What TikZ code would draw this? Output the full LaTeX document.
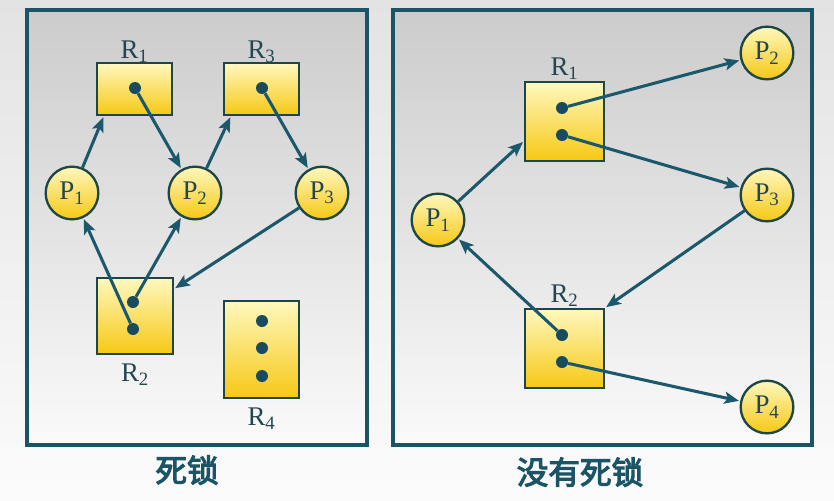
\documentclass[tikz,border=0pt]{standalone}
\usepackage{fontspec}
\setmainfont{Liberation Serif}
\newfontfamily\cjk{Noto Sans CJK SC}[FakeBold=3.5]
\usepackage{tikz}
\usetikzlibrary{positioning, arrows.meta, calc}

\definecolor{framec}{RGB}{27,84,100}
\definecolor{edgec}{RGB}{28,88,108}
\definecolor{nodeline}{RGB}{30,70,70}
\definecolor{dotc}{RGB}{25,75,95}
\definecolor{labc}{RGB}{35,70,80}
\definecolor{yeltop}{RGB}{255,248,190}
\definecolor{yelbot}{RGB}{246,200,20}

\begin{document}
\begin{tikzpicture}[
    x=0.03cm, y=-0.03cm,
    panel/.style={rectangle, draw=framec, line width=3pt,
                  top color=gray!40, bottom color=gray!4, inner sep=0pt},
    res/.style={rectangle, draw=nodeline, line width=2pt,
                top color=yeltop, bottom color=yelbot, inner sep=0pt},
    proc/.style={circle, draw=nodeline, line width=2pt,
                 top color=yeltop, bottom color=yelbot, inner sep=0pt,
                 minimum size=1.58cm, text=labc,
                 font=\fontsize{23}{26}\selectfont},
    unit/.style={circle, fill=dotc, inner sep=0pt, minimum size=0.36cm},
    lbl/.style={text=labc, inner sep=1pt, font=\fontsize{23}{26}\selectfont},
    arr/.style={-{Stealth[length=4.4mm, width=3.6mm, inset=1mm]},
                line width=2.6pt, draw=edgec, shorten >=1pt},
    caption/.style={text=framec, font=\cjk\fontsize{27}{30}\selectfont},
]

% canvas and background
\useasboundingbox (0,0) rectangle (834,500);
\shade[top color=gray!22, bottom color=gray!3] (0,0) rectangle (834,500);

% Panels
\node[panel, minimum width=10.2cm, minimum height=13.05cm] (leftpanel) at (197,227.5) {};
\node[panel, minimum width=12.57cm, minimum height=13.05cm] (rightpanel) at (602.5,227.5) {};

% ---- Left panel: deadlock ----
\node[res, minimum width=2.25cm, minimum height=1.56cm] (r1) at (134.5,89) {};
\node[res, minimum width=2.25cm, minimum height=1.56cm] (r3) at (261.5,89) {};
\node[res, minimum width=2.28cm, minimum height=2.28cm] (r2) at (135,316) {};
\node[res, minimum width=2.25cm, minimum height=2.91cm] (r4) at (261.5,349.5) {};

\node[lbl, above=-2pt of r1] (r1lbl) {R\textsubscript{1}};
\node[lbl, above=-2pt of r3] (r3lbl) {R\textsubscript{3}};
\node[lbl, below=6pt of r2] (r2lbl) {R\textsubscript{2}};
\node[lbl, below=6pt of r4] (r4lbl) {R\textsubscript{4}};

\node[unit] (r1u) at (135,88) {};
\node[unit] (r3u) at (262,88) {};
\node[unit] (r2ua) at (133,302) {};
\node[unit] (r2ub) at (133,329) {};
\node[unit] (r4ua) at (262,321) {};
\node[unit] (r4ub) at (262,348) {};
\node[unit] (r4uc) at (262,376) {};

\node[proc] (p1) at (72,193) {P\textsubscript{1}};
\node[proc] (p2) at (195,193) {P\textsubscript{2}};
\node[proc] (p3) at (322,193) {P\textsubscript{3}};

\draw[arr] (p1) -- ($(r1.south west)+(8,0)$);
\draw[arr] (r1u) -- (p2);
\draw[arr] (p2) -- ($(r3.south west)+(8,0)$);
\draw[arr] (r3u) -- (p3);
\draw[arr] (p3) -- ($(r2.north east)+(0,12)$);
\draw[arr] (r2ub) -- (p1);
\draw[arr] (r2ua) -- (p2);

\node[caption] (leftcap) at (187,470) {死锁};

% ---- Right panel: no deadlock ----
\node[res, minimum width=2.37cm, minimum height=2.37cm] (rr1) at (564.5,121.5) {};
\node[res, minimum width=2.37cm, minimum height=2.37cm] (rr2) at (564.5,348.5) {};

\node[lbl, above=0pt of rr1] (rr1lbl) {R\textsubscript{1}};
\node[lbl, above=0pt of rr2] (rr2lbl) {R\textsubscript{2}};

\node[unit] (rr1ua) at (562,108) {};
\node[unit] (rr1ub) at (562,135) {};
\node[unit] (rr2ua) at (562,335) {};
\node[unit] (rr2ub) at (562,362) {};

\node[proc] (q1) at (438,220) {P\textsubscript{1}};
\node[proc] (q2) at (767,53) {P\textsubscript{2}};
\node[proc] (q3) at (767,195) {P\textsubscript{3}};
\node[proc] (q4) at (767,407) {P\textsubscript{4}};

\draw[arr] (q1) -- ($(rr1.south west)+(0,-21)$);
\draw[arr] (rr1ua) -- (q2);
\draw[arr] (rr1ub) -- (q3);
\draw[arr] (q3) -- (rr2.north east);
\draw[arr] (rr2ua) -- (q1);
\draw[arr] (rr2ub) -- (q4);

\node[caption] (rightcap) at (580,472) {没有死锁};

\end{tikzpicture}
\end{document}
